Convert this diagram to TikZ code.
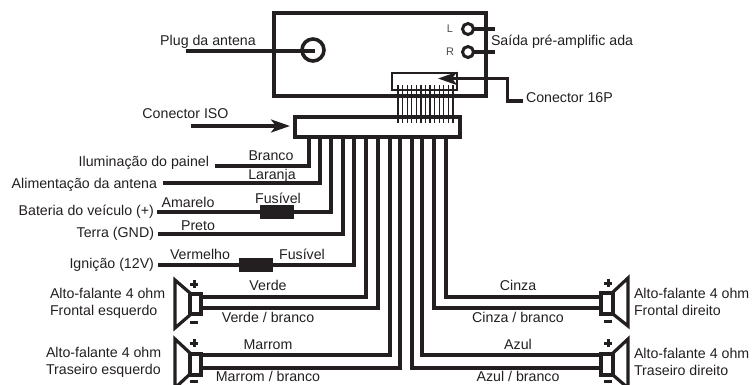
\documentclass[tikz,border=0pt]{standalone}
\usepackage{fontspec}
\setmainfont{Liberation Sans}
\usetikzlibrary{arrows.meta}
\definecolor{ink}{HTML}{231F20}
\tikzset{
  x=1pt,y=-1pt,
  every node/.style={inner sep=0pt,outer sep=0pt,text=ink,font=\fontsize{14.2}{17}\selectfont},
  wire/.style={draw=ink,line width=3.4pt,line join=miter},
  box/.style={draw=ink,line width=3.6pt,fill=white},
  thin wire/.style={draw=ink,line width=1.2pt},
  fuse/.style={fill=ink,draw=none,minimum width=34pt,minimum height=14pt},
  spk/.style={draw=ink,line width=3.2pt,fill=white,line join=miter},
  sign/.style={draw=ink,line width=3pt},
  pointer/.style={draw=ink,line width=3.2pt,-{Stealth[length=19pt,width=13pt,inset=5pt]}},
  lbl/.style={anchor=base},
  lblr/.style={anchor=base east},
  lbll/.style={anchor=base west},
  small/.style={font=\fontsize{11}{13}\selectfont}
}
\begin{document}
\begin{tikzpicture}
\useasboundingbox (0,0) rectangle (752,384);
% head unit
\node[box,minimum width=212pt,minimum height=83pt,anchor=north west] (unit) at (274,13) {};
\coordinate (plugEnd) at (186,51);
\node[draw=ink,line width=3.6pt,circle,minimum size=22pt] (plug) at (313,50) {};
\coordinate (plugC) at (315,51);
\draw[wire] (plugEnd) -- (plugC);
\node[draw=ink,line width=3pt,circle,minimum size=11pt] (jackL) at (468,29) {};
\node[draw=ink,line width=3pt,circle,minimum size=11pt] (jackR) at (468,52) {};
\coordinate (jackLe) at (495,29); \coordinate (jackRe) at (495,52);
\draw[wire] (jackL) -- (jackLe);
\draw[wire] (jackR) -- (jackRe);
\node[small,text=ink!80] (tL) at (450,29) {L};
\node[small,text=ink!80] (tR) at (450,52) {R};
\node[lbll] (tout) at (491,45) {Saída pré-amplific ada};
% connector 16P
\node[draw=ink,line width=1.2pt,fill=white,minimum width=65pt,minimum height=17pt,anchor=north west] (c16) at (392,73) {};
% ISO
\node[box,minimum width=165pt,minimum height=20pt,anchor=north west] (iso) at (295,117) {};
\foreach \x in {398,402.58,...,453.5} \draw[thin wire] (\x,85) -- (\x,123);
\coordinate (p16a) at (523,101); \coordinate (p16b) at (507.5,101); \coordinate (p16c) at (507.5,78.5);
\coordinate (p16t) at (438,78.5);
\draw[pointer] (p16a) -- (p16b) -- (p16c) -- (p16t);
\node[lbll] (t16) at (526,102) {Conector 16P};
\coordinate (isoA) at (191,126);
\coordinate (isoT) at (290,126);
\draw[pointer] (isoA) -- (isoT);
\node[lbl] (tiso) at (185.5,118) {Conector ISO};
\node[lbl] (tplug) at (208,45) {Plug da antena};
% left wires
\coordinate (w1) at (215,166); \coordinate (w2) at (163,183); \coordinate (w3) at (157,212);
\coordinate (w4) at (158,234); \coordinate (w5) at (158,265);
\draw[wire] (w1) -| (309,137);
\draw[wire] (w2) -| (320,137);
\draw[wire] (w3) -| (331,137);
\draw[wire] (w4) -| (343,137);
\draw[wire] (w5) -| (354,137);
\node[fuse] (f1) at (277,212) {};
\node[fuse] (f2) at (256,265) {};
% speaker wires
\coordinate (sa1) at (201,297); \coordinate (sa2) at (201,308);
\coordinate (sb1) at (201,355); \coordinate (sb2) at (201,368);
\coordinate (sc1) at (600,297); \coordinate (sc2) at (600,308);
\coordinate (sd1) at (600,355); \coordinate (sd2) at (600,368);
\draw[wire] (sa1) -| (366,137);
\draw[wire] (sa2) -| (378,137);
\draw[wire] (sb1) -| (390,137);
\draw[wire] (sb2) -| (400,137);
\draw[wire] (sd2) -| (412,137);
\draw[wire] (sd1) -| (422,137);
\draw[wire] (sc2) -| (434,137);
\draw[wire] (sc1) -| (446,137);
% left speakers
\draw[spk] (175,280) -- (190,293) -- (190,315) -- (175,328) -- cycle;
\draw[spk] (190,294) rectangle (201,314);
\draw[spk] (175,339) -- (190,353) -- (190,374) -- (175,388) -- cycle;
\draw[spk] (190,354) rectangle (201,375);
% right speakers
\draw[spk] (628,278) -- (613,292) -- (613,314) -- (628,326) -- cycle;
\draw[spk] (601,293) rectangle (613,314);
\draw[spk] (628,339) -- (613,353) -- (613,375) -- (628,388) -- cycle;
\draw[spk] (601,354) rectangle (613,375);
% signs
\foreach \x/\y in {194/284,194/343,608/283,608/343}{
  \draw[sign] (\x-4,\y) -- (\x+4,\y); \draw[sign] (\x,\y-4) -- (\x,\y+4);
}
\foreach \x/\y in {194/322,194/381,608/321,608/381}{
  \draw[sign] (\x-4,\y) -- (\x+4,\y);
}
% wire labels
\node[lbl] at (271,160) {Branco};
\node[lbl] at (272,179) {Laranja};
\node[lbl] at (188,207) {Amarelo};
\node[lbl] at (278,203) {Fusível};
\node[lbl] at (198,230) {Preto};
\node[lbl] at (200,259) {Vermelho};
\node[lbl] at (302,259) {Fusível};
\node[lbl] at (268,290) {Verde};
\node[lbl] at (268,322) {Verde / branco};
\node[lbl] at (268,349) {Marrom};
\node[lbl] at (268,381) {Marrom / branco};
\node[lbl] at (518,290) {Cinza};
\node[lbl] at (518,322) {Cinza / branco};
\node[lbl] at (518,349) {Azul};
\node[lbl] at (518,381) {Azul / branco};
% function labels
\node[lblr] at (209,166) {Iluminação do painel};
\node[lblr] at (157,188) {Alimentação da antena};
\node[lblr] at (154,215) {Bateria do veículo (+)};
\node[lblr] at (154,237) {Terra (GND)};
\node[lblr] at (154,268) {Ignição (12V)};
\node[lbll] at (50,298) {Alto-falante 4 ohm};
\node[lbll] at (50,315) {Frontal esquerdo};
\node[lbll] at (46,357) {Alto-falante 4 ohm};
\node[lbll] at (46,374) {Traseiro esquerdo};
\node[lbll] at (634,298) {Alto-falante 4 ohm};
\node[lbll] at (634,315) {Frontal direito};
\node[lbll] at (634,358) {Alto-falante 4 ohm};
\node[lbll] at (634,375) {Traseiro direito};
\end{tikzpicture}
\end{document}
